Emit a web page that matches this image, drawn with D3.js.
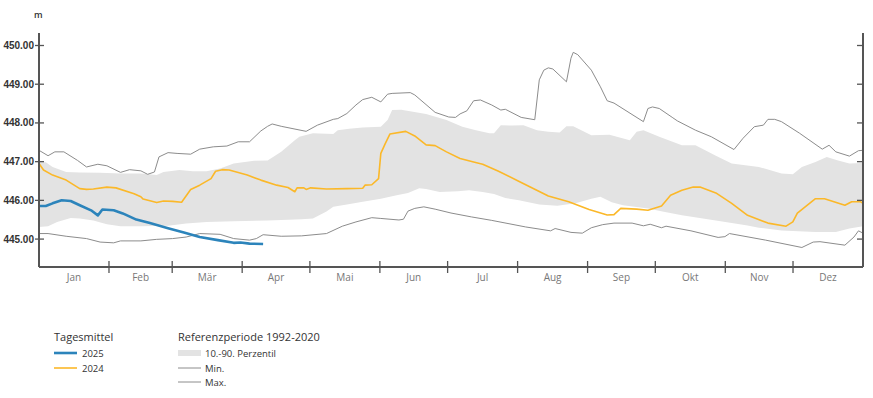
<!DOCTYPE html>
<html>
<head>
<meta charset="utf-8">
<script src="https://cdn.jsdelivr.net/npm/d3@7"></script>
<style>
  body { margin: 0; background: #fff; font-family: "Open Sans", "Noto Sans", sans-serif; }
</style>
</head>
<body>
<div id="chart"></div>
<script>
// reference period 1992-2020, values in m ü. M. (month-day, value)
var maxData = [["01-01",447.28],["01-05",447.14],["01-08",447.24],["01-12",447.24],["01-18",447.02],["01-22",446.85],["01-27",446.92],["01-31",446.88],["02-06",446.71],["02-10",446.78],["02-15",446.75],["02-18",446.66],["02-21",446.72],["02-23",447.11],["02-27",447.22],["03-03",447.20],["03-09",447.18],["03-13",447.31],["03-19",447.37],["03-25",447.39],["03-30",447.50],["04-04",447.50],["04-09",447.78],["04-12",447.90],["04-14",447.96],["04-18",447.90],["04-29",447.77],["05-04",447.93],["05-11",448.08],["05-13",448.10],["05-17",448.23],["05-21",448.45],["05-24",448.59],["05-28",448.65],["06-01",448.53],["06-04",448.73],["06-06",448.75],["06-14",448.77],["06-16",448.71],["06-25",448.26],["07-01",448.14],["07-04",448.13],["07-06",448.22],["07-09",448.30],["07-12",448.56],["07-15",448.58],["07-20",448.45],["07-24",448.32],["07-26",448.34],["08-02",448.13],["08-08",448.07],["08-10",449.10],["08-12",449.35],["08-14",449.41],["08-16",449.38],["08-22",449.05],["08-24",449.66],["08-25",449.81],["08-27",449.75],["09-02",449.35],["09-06",448.92],["09-09",448.56],["09-12",448.50],["09-25",448.02],["09-27",448.36],["09-29",448.40],["10-02",448.36],["10-08",448.12],["10-10",448.04],["10-18",447.80],["10-25",447.63],["11-04",447.30],["11-08",447.59],["11-13",447.89],["11-17",447.93],["11-19",448.08],["11-22",448.08],["11-25",448.02],["12-03",447.72],["12-13",447.31],["12-16",447.41],["12-19",447.24],["12-25",447.13],["12-29",447.27],["12-31",447.28]];

var minData = [["01-01",445.13],["01-05",445.13],["01-13",445.06],["01-22",445.00],["01-28",444.91],["02-03",444.89],["02-06",444.94],["02-15",444.94],["02-22",444.98],["03-01",445.00],["03-07",445.04],["03-13",445.13],["03-22",445.11],["03-28",445.00],["04-04",444.96],["04-07",445.00],["04-10",445.10],["04-18",445.06],["04-27",445.07],["05-08",445.13],["05-15",445.32],["05-21",445.43],["05-28",445.54],["06-01",445.52],["06-09",445.48],["06-11",445.50],["06-13",445.71],["06-16",445.78],["06-20",445.82],["06-25",445.76],["07-02",445.66],["07-11",445.56],["07-20",445.47],["08-04",445.30],["08-15",445.20],["08-17",445.26],["08-24",445.16],["08-29",445.14],["09-02",445.28],["09-07",445.36],["09-12",445.40],["09-20",445.40],["09-25",445.33],["09-28",445.37],["10-03",445.28],["10-05",445.32],["10-16",445.20],["10-28",445.03],["10-31",445.05],["11-02",445.13],["11-18",444.96],["12-04",444.77],["12-09",444.91],["12-12",444.92],["12-23",444.83],["12-27",445.04],["12-29",445.20],["12-31",445.14]];

var p90Data = [["01-01",446.98],["01-04",446.97],["01-07",446.85],["01-13",446.72],["01-19",446.71],["01-28",446.70],["02-06",446.68],["02-15",446.68],["02-22",446.64],["02-25",446.72],["03-04",446.77],["03-10",446.74],["03-16",446.74],["03-22",446.81],["03-28",446.94],["04-06",447.01],["04-12",447.02],["04-18",447.24],["04-24",447.54],["04-26",447.63],["05-02",447.72],["05-11",447.70],["05-13",447.80],["05-18",447.84],["05-24",447.87],["06-01",447.89],["06-04",448.06],["06-06",448.32],["06-10",448.33],["06-21",448.22],["06-30",448.06],["07-07",447.89],["07-13",447.80],["07-19",447.72],["07-21",447.72],["07-24",447.93],["07-29",447.92],["08-03",447.93],["08-09",447.80],["08-14",447.76],["08-19",447.74],["08-22",447.90],["08-25",447.90],["09-02",447.67],["09-10",447.68],["09-19",447.54],["09-22",447.76],["09-25",447.80],["10-02",447.63],["10-12",447.41],["10-18",447.41],["10-27",447.14],["11-03",446.94],["11-15",446.85],["11-25",446.68],["11-30",446.66],["12-04",446.85],["12-10",446.98],["12-15",447.11],["12-20",447.02],["12-25",446.94],["12-31",446.95]];

var p10Data = [["01-01",445.30],["01-05",445.32],["01-09",445.43],["01-15",445.53],["01-19",445.52],["01-25",445.47],["01-31",445.37],["02-06",445.32],["02-15",445.32],["02-27",445.33],["03-07",445.39],["03-16",445.43],["03-28",445.45],["04-12",445.47],["04-27",445.50],["05-02",445.52],["05-08",445.70],["05-11",445.82],["05-17",445.88],["05-24",445.95],["06-01",446.03],["06-08",446.12],["06-13",446.18],["06-18",446.30],["06-21",446.28],["06-27",446.20],["07-05",446.22],["07-10",446.25],["07-16",446.20],["07-21",446.15],["07-26",446.05],["08-01",445.99],["08-10",445.88],["08-18",445.85],["08-26",445.91],["09-02",446.03],["09-06",446.08],["09-11",445.94],["09-16",445.86],["09-27",445.78],["10-04",445.69],["10-12",445.60],["10-27",445.47],["11-10",445.34],["11-15",445.28],["11-25",445.21],["12-10",445.17],["12-19",445.17],["12-25",445.26],["12-31",445.32]];

// daily means
var data2024 = [["01-01",446.94],["01-03",446.77],["01-07",446.64],["01-13",446.51],["01-19",446.29],["01-22",446.27],["01-25",446.28],["01-31",446.33],["02-04",446.31],["02-12",446.16],["02-15",446.08],["02-16",446.02],["02-22",445.93],["02-25",445.97],["03-01",445.96],["03-05",445.94],["03-09",446.27],["03-13",446.38],["03-18",446.55],["03-20",446.74],["03-23",446.78],["03-26",446.77],["04-03",446.64],["04-09",446.51],["04-16",446.38],["04-21",446.32],["04-24",446.21],["04-25",446.31],["04-28",446.31],["04-29",446.27],["05-01",446.31],["05-08",446.28],["05-17",446.29],["05-24",446.30],["05-25",446.38],["05-28",446.39],["05-31",446.55],["06-01",447.20],["06-03",447.46],["06-05",447.70],["06-12",447.77],["06-16",447.65],["06-21",447.42],["06-25",447.40],["06-30",447.24],["07-06",447.07],["07-12",446.98],["07-16",446.92],["07-23",446.74],["08-02",446.45],["08-14",446.10],["08-23",445.95],["09-01",445.75],["09-09",445.61],["09-12",445.62],["09-15",445.78],["09-22",445.76],["09-27",445.73],["10-03",445.84],["10-07",446.12],["10-12",446.25],["10-17",446.33],["10-20",446.33],["10-27",446.18],["11-03",445.91],["11-10",445.60],["11-19",445.40],["11-27",445.32],["11-30",445.43],["12-02",445.66],["12-10",446.03],["12-14",446.03],["12-23",445.86],["12-26",445.95],["12-30",445.95],["12-31",445.91]];

var data2025 = [["01-01",445.84],["01-04",445.84],["01-07",445.91],["01-11",445.99],["01-15",445.97],["01-19",445.86],["01-24",445.73],["01-27",445.60],["01-29",445.75],["02-03",445.73],["02-07",445.65],["02-13",445.49],["02-19",445.40],["02-27",445.27],["03-06",445.16],["03-13",445.04],["03-21",444.96],["03-28",444.89],["03-31",444.90],["04-04",444.87],["04-10",444.86]];

var months = ["Jan","Feb","Mär","Apr","Mai","Jun","Jul","Aug","Sep","Okt","Nov","Dez"];
var yTicks = [445, 446, 447, 448, 449, 450];

var width = 873, height = 398;
var margin = {top: 33, left: 39, right: 10, bottom: 131};
var plotW = width - margin.left - margin.right,
    plotH = height - margin.top - margin.bottom;

var parseDay = d3.timeParse("%Y-%m-%d");
function toDate(md) { return parseDay("2025-" + md); }

var svg = d3.select("#chart").append("svg")
    .attr("width", width)
    .attr("height", height);

var g = svg.append("g")
    .attr("transform", "translate(" + margin.left + "," + margin.top + ")");

var x = d3.scaleTime()
    .domain([parseDay("2025-01-01"), parseDay("2025-12-31")])
    .range([0, plotW]);

var y = d3.scaleLinear()
    .domain([444.266, 450.31])
    .range([plotH, 0]);

// percentile band: top edge (p90) then bottom edge (p10) backwards
var bandLine = d3.line()
    .x(function(d) { return x(toDate(d[0])); })
    .y(function(d) { return y(d[1]); });

g.append("path")
    .attr("d", bandLine(p90Data.concat(p10Data.slice().reverse())) + "Z")
    .attr("fill", "#e3e3e3");

var line = d3.line()
    .x(function(d) { return x(toDate(d[0])); })
    .y(function(d) { return y(d[1]); });

g.append("path").datum(minData)
    .attr("fill", "none").attr("stroke", "#8c8c8c").attr("stroke-width", 1)
    .attr("d", line);
g.append("path").datum(maxData)
    .attr("fill", "none").attr("stroke", "#8c8c8c").attr("stroke-width", 1)
    .attr("d", line);
g.append("path").datum(data2024)
    .attr("fill", "none").attr("stroke", "#fbb829").attr("stroke-width", 1.6)
    .attr("stroke-linejoin", "round")
    .attr("d", line);
g.append("path").datum(data2025)
    .attr("fill", "none").attr("stroke", "#2c84bb").attr("stroke-width", 2.6)
    .attr("stroke-linejoin", "round")
    .attr("d", line);

// axes
var axisColor = "#555";

var yAxis = g.append("g")
    .call(d3.axisRight(y).tickValues(yTicks).tickSize(9).tickFormat(""));
yAxis.select(".domain").remove();
yAxis.selectAll("line").attr("x1", -4).attr("x2", 5)
    .attr("stroke", axisColor).attr("stroke-width", 1.3);

yAxis.selectAll(".tick").append("text")
    .attr("x", -5)
    .attr("dy", "0.35em")
    .attr("text-anchor", "end")
    .attr("fill", "#333")
    .style("font-size", "10px")
    .style("font-weight", "600")
    .text(function(d) { return d3.format(".2f")(d); });

var yAxisR = g.append("g")
    .attr("transform", "translate(" + plotW + ",0)")
    .call(d3.axisLeft(y).tickValues(yTicks).tickSize(6).tickFormat(""));
yAxisR.select(".domain").remove();
yAxisR.selectAll("line").attr("stroke", axisColor).attr("stroke-width", 1.3);

g.append("line").attr("x1", 0).attr("x2", 0).attr("y1", 0).attr("y2", plotH)
    .attr("stroke", axisColor).attr("stroke-width", 2);
g.append("line").attr("x1", plotW).attr("x2", plotW).attr("y1", 0).attr("y2", plotH)
    .attr("stroke", axisColor).attr("stroke-width", 2);
g.append("line").attr("x1", 0).attr("x2", plotW).attr("y1", plotH).attr("y2", plotH)
    .attr("stroke", axisColor).attr("stroke-width", 2);

// month boundaries and labels
var monthStarts = months.map(function(m, i) { return new Date(2025, i, 1); });
var monthEnd = new Date(2026, 0, 1);
var xm = d3.scaleTime().domain([monthStarts[0], monthEnd]).range([0, plotW]);

g.selectAll(".mtick").data(monthStarts.slice(1)).enter().append("line")
    .attr("x1", function(d) { return xm(d); })
    .attr("x2", function(d) { return xm(d); })
    .attr("y1", plotH - 6).attr("y2", plotH + 6)
    .attr("stroke", axisColor).attr("stroke-width", 1.3);

g.selectAll(".mlabel").data(months).enter().append("text")
    .attr("x", function(d, i) {
      var end = i < 11 ? monthStarts[i + 1] : monthEnd;
      return (xm(monthStarts[i]) + xm(end)) / 2;
    })
    .attr("y", plotH + 14)
    .attr("text-anchor", "middle")
    .attr("fill", "#777")
    .style("font-size", "10px")
    .text(function(d) { return d; });

svg.append("text")
    .attr("x", 34).attr("y", 18)
    .attr("fill", "#333")
    .style("font-size", "9px")
    .style("font-weight", "600")
    .text("m");

// legend
var leg = svg.append("g").style("font-size", "9.5px").attr("fill", "#333");
leg.append("text").attr("x", 54).attr("y", 341).style("font-size", "11px").text("Tagesmittel");
leg.append("line").attr("x1", 54).attr("x2", 77).attr("y1", 353).attr("y2", 353)
    .attr("stroke", "#2c84bb").attr("stroke-width", 2.6);
leg.append("text").attr("x", 82).attr("y", 357).text("2025");
leg.append("line").attr("x1", 54).attr("x2", 77).attr("y1", 368).attr("y2", 368)
    .attr("stroke", "#fbb829").attr("stroke-width", 1.6);
leg.append("text").attr("x", 82).attr("y", 372).text("2024");

leg.append("text").attr("x", 178).attr("y", 341).style("font-size", "11px").text("Referenzperiode 1992-2020");
leg.append("rect").attr("x", 178).attr("y", 350).attr("width", 23).attr("height", 6).attr("fill", "#e3e3e3");
leg.append("text").attr("x", 205).attr("y", 357).text("10.-90. Perzentil");
leg.append("line").attr("x1", 178).attr("x2", 201).attr("y1", 368).attr("y2", 368)
    .attr("stroke", "#8c8c8c").attr("stroke-width", 1);
leg.append("text").attr("x", 205).attr("y", 372).text("Min.");
leg.append("line").attr("x1", 178).attr("x2", 201).attr("y1", 382).attr("y2", 382)
    .attr("stroke", "#8c8c8c").attr("stroke-width", 1);
leg.append("text").attr("x", 205).attr("y", 386).text("Max.");
</script>
</body>
</html>
